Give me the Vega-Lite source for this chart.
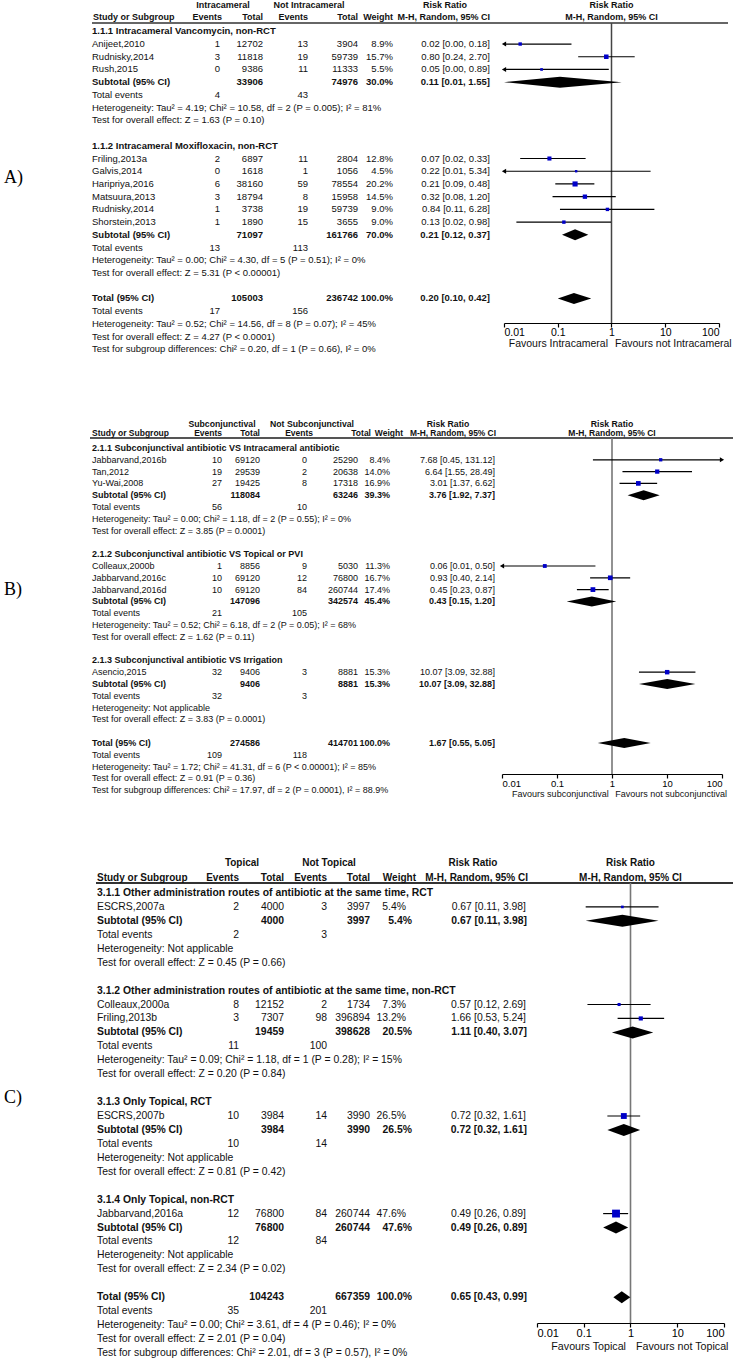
{
"$schema":"https://vega.github.io/schema/vega-lite/v6.json",
"padding":0,
"background":"white",
"spacing":0,
"config":{"view":{"stroke":null},"text":{"font":"Liberation Sans","baseline":"middle","color":"#111"}},
"datasets":{
"A":[
{"row":0,"kind":"grp","label":"1.1.1 Intracameral Vancomycin, non-RCT"},
{"row":1,"kind":"st","label":"Anijeet,2010","e1":1,"t1":12702,"e2":13,"t2":3904,"w":"8.9%","wt":8.9,"ci":"0.02 [0.00, 0.18]","rr":0.02,"lo":0.002,"hi":0.18},
{"row":2,"kind":"st","label":"Rudnisky,2014","e1":3,"t1":11818,"e2":19,"t2":59739,"w":"15.7%","wt":15.7,"ci":"0.80 [0.24, 2.70]","rr":0.80,"lo":0.24,"hi":2.70},
{"row":3,"kind":"st","label":"Rush,2015","e1":0,"t1":9386,"e2":11,"t2":11333,"w":"5.5%","wt":5.5,"ci":"0.05 [0.00, 0.89]","rr":0.05,"lo":0.003,"hi":0.89},
{"row":4,"kind":"sub","label":"Subtotal (95% CI)","t1":33906,"t2":74976,"w":"30.0%","ci":"0.11 [0.01, 1.55]","rr":0.11,"lo":0.01,"hi":1.55},
{"row":5,"kind":"ev","label":"Total events","e1":4,"e2":43},
{"row":6,"kind":"txt","label":"Heterogeneity: Tau² = 4.19; Chi² = 10.58, df = 2 (P = 0.005); I² = 81%"},
{"row":7,"kind":"txt","label":"Test for overall effect: Z = 1.63 (P = 0.10)"},
{"row":9,"kind":"grp","label":"1.1.2 Intracameral Moxifloxacin, non-RCT"},
{"row":10,"kind":"st","label":"Friling,2013a","e1":2,"t1":6897,"e2":11,"t2":2804,"w":"12.8%","wt":12.8,"ci":"0.07 [0.02, 0.33]","rr":0.07,"lo":0.02,"hi":0.33},
{"row":11,"kind":"st","label":"Galvis,2014","e1":0,"t1":1618,"e2":1,"t2":1056,"w":"4.5%","wt":4.5,"ci":"0.22 [0.01, 5.34]","rr":0.22,"lo":0.009,"hi":5.34},
{"row":12,"kind":"st","label":"Haripriya,2016","e1":6,"t1":38160,"e2":59,"t2":78554,"w":"20.2%","wt":20.2,"ci":"0.21 [0.09, 0.48]","rr":0.21,"lo":0.09,"hi":0.48},
{"row":13,"kind":"st","label":"Matsuura,2013","e1":3,"t1":18794,"e2":8,"t2":15958,"w":"14.5%","wt":14.5,"ci":"0.32 [0.08, 1.20]","rr":0.32,"lo":0.08,"hi":1.20},
{"row":14,"kind":"st","label":"Rudnisky,2014","e1":1,"t1":3738,"e2":19,"t2":59739,"w":"9.0%","wt":9.0,"ci":"0.84 [0.11, 6.28]","rr":0.84,"lo":0.11,"hi":6.28},
{"row":15,"kind":"st","label":"Shorstein,2013","e1":1,"t1":1890,"e2":15,"t2":3655,"w":"9.0%","wt":9.0,"ci":"0.13 [0.02, 0.98]","rr":0.13,"lo":0.017,"hi":0.98},
{"row":16,"kind":"sub","label":"Subtotal (95% CI)","t1":71097,"t2":161766,"w":"70.0%","ci":"0.21 [0.12, 0.37]","rr":0.21,"lo":0.12,"hi":0.37},
{"row":17,"kind":"ev","label":"Total events","e1":13,"e2":113},
{"row":18,"kind":"txt","label":"Heterogeneity: Tau² = 0.00; Chi² = 4.30, df = 5 (P = 0.51); I² = 0%"},
{"row":19,"kind":"txt","label":"Test for overall effect: Z = 5.31 (P < 0.00001)"},
{"row":21,"kind":"tot","label":"Total (95% CI)","t1":105003,"t2":236742,"w":"100.0%","ci":"0.20 [0.10, 0.42]","rr":0.20,"lo":0.10,"hi":0.42},
{"row":22,"kind":"ev","label":"Total events","e1":17,"e2":156},
{"row":23,"kind":"txt","label":"Heterogeneity: Tau² = 0.52; Chi² = 14.56, df = 8 (P = 0.07); I² = 45%"},
{"row":24,"kind":"txt","label":"Test for overall effect: Z = 4.27 (P < 0.0001)"},
{"row":25,"kind":"txt","label":"Test for subgroup differences: Chi² = 0.20, df = 1 (P = 0.66), I² = 0%"}
],
"B":[
{"row":0,"kind":"grp","label":"2.1.1 Subconjunctival antibiotic VS Intracameral antibiotic"},
{"row":1,"kind":"st","label":"Jabbarvand,2016b","e1":10,"t1":69120,"e2":0,"t2":25290,"w":"8.4%","wt":8.4,"ci":"7.68 [0.45, 131.12]","rr":7.68,"lo":0.45,"hi":131.12},
{"row":2,"kind":"st","label":"Tan,2012","e1":19,"t1":29539,"e2":2,"t2":20638,"w":"14.0%","wt":14.0,"ci":"6.64 [1.55, 28.49]","rr":6.64,"lo":1.55,"hi":28.49},
{"row":3,"kind":"st","label":"Yu-Wai,2008","e1":27,"t1":19425,"e2":8,"t2":17318,"w":"16.9%","wt":16.9,"ci":"3.01 [1.37, 6.62]","rr":3.01,"lo":1.37,"hi":6.62},
{"row":4,"kind":"sub","label":"Subtotal (95% CI)","t1":118084,"t2":63246,"w":"39.3%","ci":"3.76 [1.92, 7.37]","rr":3.76,"lo":1.92,"hi":7.37},
{"row":5,"kind":"ev","label":"Total events","e1":56,"e2":10},
{"row":6,"kind":"txt","label":"Heterogeneity: Tau² = 0.00; Chi² = 1.18, df = 2 (P = 0.55); I² = 0%"},
{"row":7,"kind":"txt","label":"Test for overall effect: Z = 3.85 (P = 0.0001)"},
{"row":9,"kind":"grp","label":"2.1.2 Subconjunctival antibiotic VS Topical or PVI"},
{"row":10,"kind":"st","label":"Colleaux,2000b","e1":1,"t1":8856,"e2":9,"t2":5030,"w":"11.3%","wt":11.3,"ci":"0.06 [0.01, 0.50]","rr":0.06,"lo":0.007,"hi":0.50},
{"row":11,"kind":"st","label":"Jabbarvand,2016c","e1":10,"t1":69120,"e2":12,"t2":76800,"w":"16.7%","wt":16.7,"ci":"0.93 [0.40, 2.14]","rr":0.93,"lo":0.40,"hi":2.14},
{"row":12,"kind":"st","label":"Jabbarvand,2016d","e1":10,"t1":69120,"e2":84,"t2":260744,"w":"17.4%","wt":17.4,"ci":"0.45 [0.23, 0.87]","rr":0.45,"lo":0.23,"hi":0.87},
{"row":13,"kind":"sub","label":"Subtotal (95% CI)","t1":147096,"t2":342574,"w":"45.4%","ci":"0.43 [0.15, 1.20]","rr":0.43,"lo":0.15,"hi":1.20},
{"row":14,"kind":"ev","label":"Total events","e1":21,"e2":105},
{"row":15,"kind":"txt","label":"Heterogeneity: Tau² = 0.52; Chi² = 6.18, df = 2 (P = 0.05); I² = 68%"},
{"row":16,"kind":"txt","label":"Test for overall effect: Z = 1.62 (P = 0.11)"},
{"row":18,"kind":"grp","label":"2.1.3 Subconjunctival antibiotic VS Irrigation"},
{"row":19,"kind":"st","label":"Asencio,2015","e1":32,"t1":9406,"e2":3,"t2":8881,"w":"15.3%","wt":15.3,"ci":"10.07 [3.09, 32.88]","rr":10.07,"lo":3.09,"hi":32.88},
{"row":20,"kind":"sub","label":"Subtotal (95% CI)","t1":9406,"t2":8881,"w":"15.3%","ci":"10.07 [3.09, 32.88]","rr":10.07,"lo":3.09,"hi":32.88},
{"row":21,"kind":"ev","label":"Total events","e1":32,"e2":3},
{"row":22,"kind":"txt","label":"Heterogeneity: Not applicable"},
{"row":23,"kind":"txt","label":"Test for overall effect: Z = 3.83 (P = 0.0001)"},
{"row":25,"kind":"tot","label":"Total (95% CI)","t1":274586,"t2":414701,"w":"100.0%","ci":"1.67 [0.55, 5.05]","rr":1.67,"lo":0.55,"hi":5.05},
{"row":26,"kind":"ev","label":"Total events","e1":109,"e2":118},
{"row":27,"kind":"txt","label":"Heterogeneity: Tau² = 1.72; Chi² = 41.31, df = 6 (P < 0.00001); I² = 85%"},
{"row":28,"kind":"txt","label":"Test for overall effect: Z = 0.91 (P = 0.36)"},
{"row":29,"kind":"txt","label":"Test for subgroup differences: Chi² = 17.97, df = 2 (P = 0.0001), I² = 88.9%"}
],
"C":[
{"row":0,"kind":"grp","label":"3.1.1 Other administration routes of antibiotic at the same time, RCT"},
{"row":1,"kind":"st","label":"ESCRS,2007a","e1":2,"t1":4000,"e2":3,"t2":3997,"w":"5.4%","wt":5.4,"ci":"0.67 [0.11, 3.98]","rr":0.67,"lo":0.11,"hi":3.98},
{"row":2,"kind":"sub","label":"Subtotal (95% CI)","t1":4000,"t2":3997,"w":"5.4%","ci":"0.67 [0.11, 3.98]","rr":0.67,"lo":0.11,"hi":3.98},
{"row":3,"kind":"ev","label":"Total events","e1":2,"e2":3},
{"row":4,"kind":"txt","label":"Heterogeneity: Not applicable"},
{"row":5,"kind":"txt","label":"Test for overall effect: Z = 0.45 (P = 0.66)"},
{"row":7,"kind":"grp","label":"3.1.2 Other administration routes of antibiotic at the same time, non-RCT"},
{"row":8,"kind":"st","label":"Colleaux,2000a","e1":8,"t1":12152,"e2":2,"t2":1734,"w":"7.3%","wt":7.3,"ci":"0.57 [0.12, 2.69]","rr":0.57,"lo":0.12,"hi":2.69},
{"row":9,"kind":"st","label":"Friling,2013b","e1":3,"t1":7307,"e2":98,"t2":396894,"w":"13.2%","wt":13.2,"ci":"1.66 [0.53, 5.24]","rr":1.66,"lo":0.53,"hi":5.24},
{"row":10,"kind":"sub","label":"Subtotal (95% CI)","t1":19459,"t2":398628,"w":"20.5%","ci":"1.11 [0.40, 3.07]","rr":1.11,"lo":0.40,"hi":3.07},
{"row":11,"kind":"ev","label":"Total events","e1":11,"e2":100},
{"row":12,"kind":"txt","label":"Heterogeneity: Tau² = 0.09; Chi² = 1.18, df = 1 (P = 0.28); I² = 15%"},
{"row":13,"kind":"txt","label":"Test for overall effect: Z = 0.20 (P = 0.84)"},
{"row":15,"kind":"grp","label":"3.1.3 Only Topical, RCT"},
{"row":16,"kind":"st","label":"ESCRS,2007b","e1":10,"t1":3984,"e2":14,"t2":3990,"w":"26.5%","wt":26.5,"ci":"0.72 [0.32, 1.61]","rr":0.72,"lo":0.32,"hi":1.61},
{"row":17,"kind":"sub","label":"Subtotal (95% CI)","t1":3984,"t2":3990,"w":"26.5%","ci":"0.72 [0.32, 1.61]","rr":0.72,"lo":0.32,"hi":1.61},
{"row":18,"kind":"ev","label":"Total events","e1":10,"e2":14},
{"row":19,"kind":"txt","label":"Heterogeneity: Not applicable"},
{"row":20,"kind":"txt","label":"Test for overall effect: Z = 0.81 (P = 0.42)"},
{"row":22,"kind":"grp","label":"3.1.4 Only Topical, non-RCT"},
{"row":23,"kind":"st","label":"Jabbarvand,2016a","e1":12,"t1":76800,"e2":84,"t2":260744,"w":"47.6%","wt":47.6,"ci":"0.49 [0.26, 0.89]","rr":0.49,"lo":0.26,"hi":0.89},
{"row":24,"kind":"sub","label":"Subtotal (95% CI)","t1":76800,"t2":260744,"w":"47.6%","ci":"0.49 [0.26, 0.89]","rr":0.49,"lo":0.26,"hi":0.89},
{"row":25,"kind":"ev","label":"Total events","e1":12,"e2":84},
{"row":26,"kind":"txt","label":"Heterogeneity: Not applicable"},
{"row":27,"kind":"txt","label":"Test for overall effect: Z = 2.34 (P = 0.02)"},
{"row":29,"kind":"tot","label":"Total (95% CI)","t1":104243,"t2":667359,"w":"100.0%","ci":"0.65 [0.43, 0.99]","rr":0.65,"lo":0.43,"hi":0.99},
{"row":30,"kind":"ev","label":"Total events","e1":35,"e2":201},
{"row":31,"kind":"txt","label":"Heterogeneity: Tau² = 0.00; Chi² = 3.61, df = 4 (P = 0.46); I² = 0%"},
{"row":32,"kind":"txt","label":"Test for overall effect: Z = 2.01 (P = 0.04)"},
{"row":33,"kind":"txt","label":"Test for subgroup differences: Chi² = 2.01, df = 3 (P = 0.57), I² = 0%"}
]
},
"vconcat":[
{"spacing":0,"bounds":"flush","hconcat":[
{"width":504,"height":360,"data":{"name":"A"},
"layer":[
{"transform":[{"filter":"datum.kind=='st'||datum.kind=='ev'||datum.kind=='txt'"}],"mark":{"type":"text","align":"left","fontSize":9.5},"encoding":{"x":{"datum":92,"type":"quantitative","scale":{"domain":[0,504],"nice":false,"zero":false},"axis":null},"y":{"field":"row","type":"quantitative","scale":{"domain":[-2.461,25.84],"reverse":true,"nice":false,"zero":false},"axis":null},"text":{"field":"label","type":"nominal"}}},
{"transform":[{"filter":"datum.kind=='grp'||datum.kind=='sub'||datum.kind=='tot'"}],"mark":{"type":"text","align":"left","fontSize":9.5,"fontWeight":"bold"},"encoding":{"x":{"datum":92},"y":{"field":"row","type":"quantitative","axis":null},"text":{"field":"label","type":"nominal"}}},
{"transform":[{"filter":"isValid(datum.e1)"}],"mark":{"type":"text","align":"right","fontSize":9.5},"encoding":{"x":{"datum":220},"y":{"field":"row","type":"quantitative","axis":null},"text":{"field":"e1","type":"nominal"}}},
{"transform":[{"filter":"isValid(datum.t1)&&datum.kind=='st'"}],"mark":{"type":"text","align":"right","fontSize":9.5},"encoding":{"x":{"datum":263},"y":{"field":"row","type":"quantitative","axis":null},"text":{"field":"t1","type":"nominal"}}},
{"transform":[{"filter":"isValid(datum.t1)&&datum.kind!='st'"}],"mark":{"type":"text","align":"right","fontSize":9.5,"fontWeight":"bold"},"encoding":{"x":{"datum":263},"y":{"field":"row","type":"quantitative","axis":null},"text":{"field":"t1","type":"nominal"}}},
{"transform":[{"filter":"isValid(datum.e2)"}],"mark":{"type":"text","align":"right","fontSize":9.5},"encoding":{"x":{"datum":308},"y":{"field":"row","type":"quantitative","axis":null},"text":{"field":"e2","type":"nominal"}}},
{"transform":[{"filter":"isValid(datum.t2)&&datum.kind=='st'"}],"mark":{"type":"text","align":"right","fontSize":9.5},"encoding":{"x":{"datum":358},"y":{"field":"row","type":"quantitative","axis":null},"text":{"field":"t2","type":"nominal"}}},
{"transform":[{"filter":"isValid(datum.t2)&&datum.kind!='st'"}],"mark":{"type":"text","align":"right","fontSize":9.5,"fontWeight":"bold"},"encoding":{"x":{"datum":358},"y":{"field":"row","type":"quantitative","axis":null},"text":{"field":"t2","type":"nominal"}}},
{"transform":[{"filter":"isValid(datum.w)&&datum.kind=='st'"}],"mark":{"type":"text","align":"right","fontSize":9.5},"encoding":{"x":{"datum":393},"y":{"field":"row","type":"quantitative","axis":null},"text":{"field":"w","type":"nominal"}}},
{"transform":[{"filter":"isValid(datum.w)&&datum.kind!='st'"}],"mark":{"type":"text","align":"right","fontSize":9.5,"fontWeight":"bold"},"encoding":{"x":{"datum":393},"y":{"field":"row","type":"quantitative","axis":null},"text":{"field":"w","type":"nominal"}}},
{"transform":[{"filter":"isValid(datum.ci)&&datum.kind=='st'"}],"mark":{"type":"text","align":"right","fontSize":9.5},"encoding":{"x":{"datum":490},"y":{"field":"row","type":"quantitative","axis":null},"text":{"field":"ci","type":"nominal"}}},
{"transform":[{"filter":"isValid(datum.ci)&&datum.kind!='st'"}],"mark":{"type":"text","align":"right","fontSize":9.5,"fontWeight":"bold"},"encoding":{"x":{"datum":490},"y":{"field":"row","type":"quantitative","axis":null},"text":{"field":"ci","type":"nominal"}}},
{"data":{"values":[{}]},"mark":{"type":"rule","color":"#333","strokeWidth":1.6},"encoding":{"x":{"datum":92},"x2":{"datum":728},"y":{"datum":-0.65,"axis":null}}},
{"data":{"values":[{}]},"mark":{"type":"text","align":"center","fontSize":9,"fontWeight":"bold"},"encoding":{"x":{"datum":223},"y":{"datum":-2.07,"axis":null},"text":{"value":"Intracameral"}}},
{"data":{"values":[{}]},"mark":{"type":"text","align":"center","fontSize":9,"fontWeight":"bold"},"encoding":{"x":{"datum":309},"y":{"datum":-2.07,"axis":null},"text":{"value":"Not Intracameral"}}},
{"data":{"values":[{}]},"mark":{"type":"text","align":"center","fontSize":9,"fontWeight":"bold"},"encoding":{"x":{"datum":445},"y":{"datum":-2.07,"axis":null},"text":{"value":"Risk Ratio"}}},
{"data":{"values":[{}]},"mark":{"type":"text","align":"left","fontSize":9,"fontWeight":"bold"},"encoding":{"x":{"datum":93},"y":{"datum":-1.12,"axis":null},"text":{"value":"Study or Subgroup"}}},
{"data":{"values":[{}]},"mark":{"type":"text","align":"right","fontSize":9,"fontWeight":"bold"},"encoding":{"x":{"datum":222},"y":{"datum":-1.12,"axis":null},"text":{"value":"Events"}}},
{"data":{"values":[{}]},"mark":{"type":"text","align":"right","fontSize":9,"fontWeight":"bold"},"encoding":{"x":{"datum":263},"y":{"datum":-1.12,"axis":null},"text":{"value":"Total"}}},
{"data":{"values":[{}]},"mark":{"type":"text","align":"right","fontSize":9,"fontWeight":"bold"},"encoding":{"x":{"datum":308},"y":{"datum":-1.12,"axis":null},"text":{"value":"Events"}}},
{"data":{"values":[{}]},"mark":{"type":"text","align":"right","fontSize":9,"fontWeight":"bold"},"encoding":{"x":{"datum":358},"y":{"datum":-1.12,"axis":null},"text":{"value":"Total"}}},
{"data":{"values":[{}]},"mark":{"type":"text","align":"right","fontSize":9,"fontWeight":"bold"},"encoding":{"x":{"datum":393},"y":{"datum":-1.12,"axis":null},"text":{"value":"Weight"}}},
{"data":{"values":[{}]},"mark":{"type":"text","align":"right","fontSize":9,"fontWeight":"bold"},"encoding":{"x":{"datum":490},"y":{"datum":-1.12,"axis":null},"text":{"value":"M-H, Random, 95% CI"}}},
{"data":{"values":[{}]},"mark":{"type":"text","align":"left","fontSize":18,"font":"Liberation Serif","color":"#000"},"encoding":{"x":{"datum":4},"y":{"datum":11.53,"axis":null},"text":{"value":"A)"}}}
]},
{"width":215,"height":323,"data":{"name":"A"},
"layer":[
{"data":{"values":[{}]},"mark":{"type":"rule","color":"#444","strokeWidth":1.5},"encoding":{"x":{"datum":1,"type":"quantitative","scale":{"type":"log","domain":[0.01,100],"nice":false,"clamp":true},"axis":{"values":[0.01,0.1,1,10,100],"format":"~g","title":null,"grid":false,"orient":"bottom","domainColor":"#000","domainWidth":1.2,"tickColor":"#000","tickWidth":1.2,"tickSize":4,"labelColor":"#000","labelFont":"Liberation Sans","labelFontSize":10.5,"labelPadding":0}},"y":{"datum":-0.65,"type":"quantitative","scale":{"domain":[-2.461,22.93],"reverse":true,"nice":false,"zero":false},"axis":null},"y2":{"datum":22.93}}},
{"transform":[{"filter":"datum.kind=='st'"}],"mark":{"type":"rule","color":"#000","strokeWidth":1.2},"encoding":{"x":{"field":"lo","type":"quantitative"},"x2":{"field":"hi"},"y":{"field":"row","type":"quantitative","axis":null}}},
{"transform":[{"filter":"datum.kind=='st'&&datum.lo<0.01"}],"mark":{"type":"point","shape":"triangle-left","filled":true,"color":"#000","opacity":1,"size":24},"encoding":{"x":{"field":"lo","type":"quantitative"},"y":{"field":"row","type":"quantitative","axis":null}}},
{"transform":[{"filter":"datum.kind=='st'"}],"mark":{"type":"point","shape":"square","filled":true,"color":"#0000c8","opacity":1},"encoding":{"x":{"field":"rr","type":"quantitative"},"y":{"field":"row","type":"quantitative","axis":null},"size":{"field":"wt","type":"quantitative","scale":{"domain":[0,50],"range":[0,65]},"legend":null}}},
{"transform":[{"filter":"datum.kind=='sub'||datum.kind=='tot'"},{"fold":["lo","rr","hi"],"as":["k","v"]}],"mark":{"type":"area","color":"#000","opacity":1,"yOffset":{"expr":"datum.k=='rr' ? -5.5 : 0"},"y2Offset":{"expr":"datum.k=='rr' ? 5.5 : 0"}},"encoding":{"x":{"field":"v","type":"quantitative"},"y":{"field":"row","type":"quantitative","axis":null},"y2":{"field":"row"},"detail":{"field":"row","type":"nominal"}}},
{"data":{"values":[{}]},"mark":{"type":"text","align":"center","fontSize":9,"fontWeight":"bold"},"encoding":{"x":{"datum":1},"y":{"datum":-2.07,"axis":null},"text":{"value":"Risk Ratio"}}},
{"data":{"values":[{}]},"mark":{"type":"text","align":"center","fontSize":9,"fontWeight":"bold"},"encoding":{"x":{"datum":1},"y":{"datum":-1.12,"axis":null},"text":{"value":"M-H, Random, 95% CI"}}},
{"data":{"values":[{}]},"mark":{"type":"text","align":"right","fontSize":10.5},"encoding":{"x":{"datum":0.86},"y":{"datum":24.6,"axis":null},"text":{"value":"Favours Intracameral"}}},
{"data":{"values":[{}]},"mark":{"type":"text","align":"left","fontSize":10.5},"encoding":{"x":{"datum":1.16},"y":{"datum":24.6,"axis":null},"text":{"value":"Favours not Intracameral"}}}
]}
]},
{"spacing":0,"bounds":"flush","hconcat":[
{"width":502,"height":440,"data":{"name":"B"},
"layer":[
{"transform":[{"filter":"datum.kind=='st'||datum.kind=='ev'||datum.kind=='txt'"}],"mark":{"type":"text","align":"left","fontSize":9},"encoding":{"x":{"datum":92,"type":"quantitative","scale":{"domain":[0,502],"nice":false,"zero":false},"axis":null},"y":{"field":"row","type":"quantitative","scale":{"domain":[-7.458,29.83],"reverse":true,"nice":false,"zero":false},"axis":null},"text":{"field":"label","type":"nominal"}}},
{"transform":[{"filter":"datum.kind=='grp'||datum.kind=='sub'||datum.kind=='tot'"}],"mark":{"type":"text","align":"left","fontSize":9,"fontWeight":"bold"},"encoding":{"x":{"datum":92},"y":{"field":"row","type":"quantitative","axis":null},"text":{"field":"label","type":"nominal"}}},
{"transform":[{"filter":"isValid(datum.e1)"}],"mark":{"type":"text","align":"right","fontSize":9},"encoding":{"x":{"datum":222},"y":{"field":"row","type":"quantitative","axis":null},"text":{"field":"e1","type":"nominal"}}},
{"transform":[{"filter":"isValid(datum.t1)&&datum.kind=='st'"}],"mark":{"type":"text","align":"right","fontSize":9},"encoding":{"x":{"datum":260},"y":{"field":"row","type":"quantitative","axis":null},"text":{"field":"t1","type":"nominal"}}},
{"transform":[{"filter":"isValid(datum.t1)&&datum.kind!='st'"}],"mark":{"type":"text","align":"right","fontSize":9,"fontWeight":"bold"},"encoding":{"x":{"datum":260},"y":{"field":"row","type":"quantitative","axis":null},"text":{"field":"t1","type":"nominal"}}},
{"transform":[{"filter":"isValid(datum.e2)"}],"mark":{"type":"text","align":"right","fontSize":9},"encoding":{"x":{"datum":307},"y":{"field":"row","type":"quantitative","axis":null},"text":{"field":"e2","type":"nominal"}}},
{"transform":[{"filter":"isValid(datum.t2)&&datum.kind=='st'"}],"mark":{"type":"text","align":"right","fontSize":9},"encoding":{"x":{"datum":358},"y":{"field":"row","type":"quantitative","axis":null},"text":{"field":"t2","type":"nominal"}}},
{"transform":[{"filter":"isValid(datum.t2)&&datum.kind!='st'"}],"mark":{"type":"text","align":"right","fontSize":9,"fontWeight":"bold"},"encoding":{"x":{"datum":358},"y":{"field":"row","type":"quantitative","axis":null},"text":{"field":"t2","type":"nominal"}}},
{"transform":[{"filter":"isValid(datum.w)&&datum.kind=='st'"}],"mark":{"type":"text","align":"right","fontSize":9},"encoding":{"x":{"datum":390},"y":{"field":"row","type":"quantitative","axis":null},"text":{"field":"w","type":"nominal"}}},
{"transform":[{"filter":"isValid(datum.w)&&datum.kind!='st'"}],"mark":{"type":"text","align":"right","fontSize":9,"fontWeight":"bold"},"encoding":{"x":{"datum":390},"y":{"field":"row","type":"quantitative","axis":null},"text":{"field":"w","type":"nominal"}}},
{"transform":[{"filter":"isValid(datum.ci)&&datum.kind=='st'"}],"mark":{"type":"text","align":"right","fontSize":9},"encoding":{"x":{"datum":495},"y":{"field":"row","type":"quantitative","axis":null},"text":{"field":"ci","type":"nominal"}}},
{"transform":[{"filter":"isValid(datum.ci)&&datum.kind!='st'"}],"mark":{"type":"text","align":"right","fontSize":9,"fontWeight":"bold"},"encoding":{"x":{"datum":495},"y":{"field":"row","type":"quantitative","axis":null},"text":{"field":"ci","type":"nominal"}}},
{"data":{"values":[{}]},"mark":{"type":"rule","color":"#555","strokeWidth":2},"encoding":{"x":{"datum":90},"x2":{"datum":733},"y":{"datum":-0.85,"axis":null}}},
{"data":{"values":[{}]},"mark":{"type":"text","align":"center","fontSize":8.7,"fontWeight":"bold"},"encoding":{"x":{"datum":222},"y":{"datum":-2.03,"axis":null},"text":{"value":"Subconjunctival"}}},
{"data":{"values":[{}]},"mark":{"type":"text","align":"center","fontSize":8.7,"fontWeight":"bold"},"encoding":{"x":{"datum":312},"y":{"datum":-2.03,"axis":null},"text":{"value":"Not Subconjunctival"}}},
{"data":{"values":[{}]},"mark":{"type":"text","align":"center","fontSize":8.7,"fontWeight":"bold"},"encoding":{"x":{"datum":448},"y":{"datum":-2.03,"axis":null},"text":{"value":"Risk Ratio"}}},
{"data":{"values":[{}]},"mark":{"type":"text","align":"left","fontSize":8.5,"fontWeight":"bold"},"encoding":{"x":{"datum":92},"y":{"datum":-1.27,"axis":null},"text":{"value":"Study or Subgroup"}}},
{"data":{"values":[{}]},"mark":{"type":"text","align":"right","fontSize":8.5,"fontWeight":"bold"},"encoding":{"x":{"datum":222},"y":{"datum":-1.27,"axis":null},"text":{"value":"Events"}}},
{"data":{"values":[{}]},"mark":{"type":"text","align":"right","fontSize":8.5,"fontWeight":"bold"},"encoding":{"x":{"datum":260},"y":{"datum":-1.27,"axis":null},"text":{"value":"Total"}}},
{"data":{"values":[{}]},"mark":{"type":"text","align":"right","fontSize":8.5,"fontWeight":"bold"},"encoding":{"x":{"datum":313},"y":{"datum":-1.27,"axis":null},"text":{"value":"Events"}}},
{"data":{"values":[{}]},"mark":{"type":"text","align":"right","fontSize":8.5,"fontWeight":"bold"},"encoding":{"x":{"datum":371},"y":{"datum":-1.27,"axis":null},"text":{"value":"Total"}}},
{"data":{"values":[{}]},"mark":{"type":"text","align":"right","fontSize":8.5,"fontWeight":"bold"},"encoding":{"x":{"datum":403},"y":{"datum":-1.27,"axis":null},"text":{"value":"Weight"}}},
{"data":{"values":[{}]},"mark":{"type":"text","align":"right","fontSize":8.4,"fontWeight":"bold"},"encoding":{"x":{"datum":496},"y":{"datum":-1.27,"axis":null},"text":{"value":"M-H, Random, 95% CI"}}},
{"data":{"values":[{}]},"mark":{"type":"text","align":"left","fontSize":18,"font":"Liberation Serif","color":"#000"},"encoding":{"x":{"datum":4},"y":{"datum":12.03,"axis":null},"text":{"value":"B)"}}}
]},
{"width":220,"height":414,"data":{"name":"B"},
"layer":[
{"data":{"values":[{}]},"mark":{"type":"rule","color":"#777","strokeWidth":1.6},"encoding":{"x":{"datum":1,"type":"quantitative","scale":{"type":"log","domain":[0.01,100],"nice":false,"clamp":true},"axis":{"values":[0.01,0.1,1,10,100],"format":"~g","title":null,"grid":false,"orient":"bottom","domainColor":"#000","domainWidth":1.2,"tickColor":"#000","tickWidth":1.2,"tickSize":4,"labelColor":"#000","labelFont":"Liberation Sans","labelFontSize":9.5,"labelPadding":0}},"y":{"datum":-0.85,"type":"quantitative","scale":{"domain":[-7.458,27.63],"reverse":true,"nice":false,"zero":false},"axis":null},"y2":{"datum":27.63}}},
{"transform":[{"filter":"datum.kind=='st'"}],"mark":{"type":"rule","color":"#000","strokeWidth":1.2},"encoding":{"x":{"field":"lo","type":"quantitative"},"x2":{"field":"hi"},"y":{"field":"row","type":"quantitative","axis":null}}},
{"transform":[{"filter":"datum.kind=='st'&&datum.lo<0.01"}],"mark":{"type":"point","shape":"triangle-left","filled":true,"color":"#000","opacity":1,"size":24},"encoding":{"x":{"field":"lo","type":"quantitative"},"y":{"field":"row","type":"quantitative","axis":null}}},
{"transform":[{"filter":"datum.kind=='st'&&datum.hi>100"}],"mark":{"type":"point","shape":"triangle-right","filled":true,"color":"#000","opacity":1,"size":24},"encoding":{"x":{"field":"hi","type":"quantitative"},"y":{"field":"row","type":"quantitative","axis":null}}},
{"transform":[{"filter":"datum.kind=='st'"}],"mark":{"type":"point","shape":"square","filled":true,"color":"#0000c8","opacity":1},"encoding":{"x":{"field":"rr","type":"quantitative"},"y":{"field":"row","type":"quantitative","axis":null},"size":{"field":"wt","type":"quantitative","scale":{"domain":[0,50],"range":[0,65]},"legend":null}}},
{"transform":[{"filter":"datum.kind=='sub'||datum.kind=='tot'"},{"fold":["lo","rr","hi"],"as":["k","v"]}],"mark":{"type":"area","color":"#000","opacity":1,"yOffset":{"expr":"datum.k=='rr' ? -5 : 0"},"y2Offset":{"expr":"datum.k=='rr' ? 5 : 0"}},"encoding":{"x":{"field":"v","type":"quantitative"},"y":{"field":"row","type":"quantitative","axis":null},"y2":{"field":"row"},"detail":{"field":"row","type":"nominal"}}},
{"data":{"values":[{}]},"mark":{"type":"text","align":"center","fontSize":8.7,"fontWeight":"bold"},"encoding":{"x":{"datum":1},"y":{"datum":-2.03,"axis":null},"text":{"value":"Risk Ratio"}}},
{"data":{"values":[{}]},"mark":{"type":"text","align":"center","fontSize":8.5,"fontWeight":"bold"},"encoding":{"x":{"datum":1},"y":{"datum":-1.27,"axis":null},"text":{"value":"M-H, Random, 95% CI"}}},
{"data":{"values":[{}]},"mark":{"type":"text","align":"right","fontSize":9},"encoding":{"x":{"datum":0.87},"y":{"datum":29.3,"axis":null},"text":{"value":"Favours subconjunctival"}}},
{"data":{"values":[{}]},"mark":{"type":"text","align":"left","fontSize":9},"encoding":{"x":{"datum":1.15},"y":{"datum":29.3,"axis":null},"text":{"value":"Favours not subconjunctival"}}}
]}
]},
{"spacing":0,"bounds":"flush","hconcat":[
{"width":537,"height":559,"data":{"name":"C"},
"layer":[
{"transform":[{"filter":"datum.kind=='st'||datum.kind=='ev'||datum.kind=='txt'"}],"mark":{"type":"text","align":"left","fontSize":10.4},"encoding":{"x":{"datum":97,"type":"quantitative","scale":{"domain":[0,537],"nice":false,"zero":false},"axis":null},"y":{"field":"row","type":"quantitative","scale":{"domain":[-6.671,33.43],"reverse":true,"nice":false,"zero":false},"axis":null},"text":{"field":"label","type":"nominal"}}},
{"transform":[{"filter":"datum.kind=='grp'||datum.kind=='sub'||datum.kind=='tot'"}],"mark":{"type":"text","align":"left","fontSize":10.4,"fontWeight":"bold"},"encoding":{"x":{"datum":97},"y":{"field":"row","type":"quantitative","axis":null},"text":{"field":"label","type":"nominal"}}},
{"transform":[{"filter":"isValid(datum.e1)"}],"mark":{"type":"text","align":"right","fontSize":10.4},"encoding":{"x":{"datum":239},"y":{"field":"row","type":"quantitative","axis":null},"text":{"field":"e1","type":"nominal"}}},
{"transform":[{"filter":"isValid(datum.t1)&&datum.kind=='st'"}],"mark":{"type":"text","align":"right","fontSize":10.4},"encoding":{"x":{"datum":284},"y":{"field":"row","type":"quantitative","axis":null},"text":{"field":"t1","type":"nominal"}}},
{"transform":[{"filter":"isValid(datum.t1)&&datum.kind!='st'"}],"mark":{"type":"text","align":"right","fontSize":10.4,"fontWeight":"bold"},"encoding":{"x":{"datum":284},"y":{"field":"row","type":"quantitative","axis":null},"text":{"field":"t1","type":"nominal"}}},
{"transform":[{"filter":"isValid(datum.e2)"}],"mark":{"type":"text","align":"right","fontSize":10.4},"encoding":{"x":{"datum":327},"y":{"field":"row","type":"quantitative","axis":null},"text":{"field":"e2","type":"nominal"}}},
{"transform":[{"filter":"isValid(datum.t2)&&datum.kind=='st'"}],"mark":{"type":"text","align":"right","fontSize":10.4},"encoding":{"x":{"datum":370},"y":{"field":"row","type":"quantitative","axis":null},"text":{"field":"t2","type":"nominal"}}},
{"transform":[{"filter":"isValid(datum.t2)&&datum.kind!='st'"}],"mark":{"type":"text","align":"right","fontSize":10.4,"fontWeight":"bold"},"encoding":{"x":{"datum":370},"y":{"field":"row","type":"quantitative","axis":null},"text":{"field":"t2","type":"nominal"}}},
{"transform":[{"filter":"isValid(datum.w)&&datum.kind=='st'"}],"mark":{"type":"text","align":"right","fontSize":10.4},"encoding":{"x":{"datum":406},"y":{"field":"row","type":"quantitative","axis":null},"text":{"field":"w","type":"nominal"}}},
{"transform":[{"filter":"isValid(datum.w)&&datum.kind!='st'"}],"mark":{"type":"text","align":"right","fontSize":10.4,"fontWeight":"bold"},"encoding":{"x":{"datum":412},"y":{"field":"row","type":"quantitative","axis":null},"text":{"field":"w","type":"nominal"}}},
{"transform":[{"filter":"isValid(datum.ci)&&datum.kind=='st'"}],"mark":{"type":"text","align":"right","fontSize":10.4},"encoding":{"x":{"datum":526},"y":{"field":"row","type":"quantitative","axis":null},"text":{"field":"ci","type":"nominal"}}},
{"transform":[{"filter":"isValid(datum.ci)&&datum.kind!='st'"}],"mark":{"type":"text","align":"right","fontSize":10.4,"fontWeight":"bold"},"encoding":{"x":{"datum":527},"y":{"field":"row","type":"quantitative","axis":null},"text":{"field":"ci","type":"nominal"}}},
{"data":{"values":[{}]},"mark":{"type":"rule","color":"#333","strokeWidth":1.8},"encoding":{"x":{"datum":96},"x2":{"datum":733},"y":{"datum":-0.717,"axis":null}}},
{"data":{"values":[{}]},"mark":{"type":"text","align":"center","fontSize":10,"fontWeight":"bold"},"encoding":{"x":{"datum":242},"y":{"datum":-2.15,"axis":null},"text":{"value":"Topical"}}},
{"data":{"values":[{}]},"mark":{"type":"text","align":"center","fontSize":10,"fontWeight":"bold"},"encoding":{"x":{"datum":329},"y":{"datum":-2.15,"axis":null},"text":{"value":"Not Topical"}}},
{"data":{"values":[{}]},"mark":{"type":"text","align":"center","fontSize":10,"fontWeight":"bold"},"encoding":{"x":{"datum":473},"y":{"datum":-2.15,"axis":null},"text":{"value":"Risk Ratio"}}},
{"data":{"values":[{}]},"mark":{"type":"text","align":"left","fontSize":10,"fontWeight":"bold"},"encoding":{"x":{"datum":97},"y":{"datum":-1.08,"axis":null},"text":{"value":"Study or Subgroup"}}},
{"data":{"values":[{}]},"mark":{"type":"text","align":"right","fontSize":10,"fontWeight":"bold"},"encoding":{"x":{"datum":239},"y":{"datum":-1.08,"axis":null},"text":{"value":"Events"}}},
{"data":{"values":[{}]},"mark":{"type":"text","align":"right","fontSize":10,"fontWeight":"bold"},"encoding":{"x":{"datum":284},"y":{"datum":-1.08,"axis":null},"text":{"value":"Total"}}},
{"data":{"values":[{}]},"mark":{"type":"text","align":"right","fontSize":10,"fontWeight":"bold"},"encoding":{"x":{"datum":327},"y":{"datum":-1.08,"axis":null},"text":{"value":"Events"}}},
{"data":{"values":[{}]},"mark":{"type":"text","align":"right","fontSize":10,"fontWeight":"bold"},"encoding":{"x":{"datum":370},"y":{"datum":-1.08,"axis":null},"text":{"value":"Total"}}},
{"data":{"values":[{}]},"mark":{"type":"text","align":"right","fontSize":10,"fontWeight":"bold"},"encoding":{"x":{"datum":416},"y":{"datum":-1.08,"axis":null},"text":{"value":"Weight"}}},
{"data":{"values":[{}]},"mark":{"type":"text","align":"right","fontSize":10,"fontWeight":"bold"},"encoding":{"x":{"datum":528},"y":{"datum":-1.08,"axis":null},"text":{"value":"M-H, Random, 95% CI"}}},
{"data":{"values":[{}]},"mark":{"type":"text","align":"left","fontSize":18,"font":"Liberation Serif","color":"#000"},"encoding":{"x":{"datum":4},"y":{"datum":14.7,"axis":null},"text":{"value":"C)"}}}
]},
{"width":187,"height":523,"data":{"name":"C"},
"layer":[
{"data":{"values":[{}]},"mark":{"type":"rule","color":"#777","strokeWidth":1.6},"encoding":{"x":{"datum":1,"type":"quantitative","scale":{"type":"log","domain":[0.01,100],"nice":false,"clamp":true},"axis":{"values":[0.01,0.1,1,10,100],"format":"~g","title":null,"grid":false,"orient":"bottom","domainColor":"#000","domainWidth":1.2,"tickColor":"#000","tickWidth":1.2,"tickSize":4,"labelColor":"#000","labelFont":"Liberation Sans","labelFontSize":11,"labelPadding":0}},"y":{"datum":-0.717,"type":"quantitative","scale":{"domain":[-6.671,30.85],"reverse":true,"nice":false,"zero":false},"axis":null},"y2":{"datum":30.85}}},
{"transform":[{"filter":"datum.kind=='st'"}],"mark":{"type":"rule","color":"#000","strokeWidth":1.2},"encoding":{"x":{"field":"lo","type":"quantitative"},"x2":{"field":"hi"},"y":{"field":"row","type":"quantitative","axis":null}}},
{"transform":[{"filter":"datum.kind=='st'"}],"mark":{"type":"point","shape":"square","filled":true,"color":"#0000c8","opacity":1},"encoding":{"x":{"field":"rr","type":"quantitative"},"y":{"field":"row","type":"quantitative","axis":null},"size":{"field":"wt","type":"quantitative","scale":{"domain":[0,50],"range":[0,65]},"legend":null}}},
{"transform":[{"filter":"datum.kind=='sub'||datum.kind=='tot'"},{"fold":["lo","rr","hi"],"as":["k","v"]}],"mark":{"type":"area","color":"#000","opacity":1,"yOffset":{"expr":"datum.k=='rr' ? -6 : 0"},"y2Offset":{"expr":"datum.k=='rr' ? 6 : 0"}},"encoding":{"x":{"field":"v","type":"quantitative"},"y":{"field":"row","type":"quantitative","axis":null},"y2":{"field":"row"},"detail":{"field":"row","type":"nominal"}}},
{"data":{"values":[{}]},"mark":{"type":"text","align":"center","fontSize":10,"fontWeight":"bold"},"encoding":{"x":{"datum":1},"y":{"datum":-2.15,"axis":null},"text":{"value":"Risk Ratio"}}},
{"data":{"values":[{}]},"mark":{"type":"text","align":"center","fontSize":10,"fontWeight":"bold"},"encoding":{"x":{"datum":1},"y":{"datum":-1.08,"axis":null},"text":{"value":"M-H, Random, 95% CI"}}},
{"data":{"values":[{}]},"mark":{"type":"text","align":"right","fontSize":10.7},"encoding":{"x":{"datum":0.8},"y":{"datum":32.6,"axis":null},"text":{"value":"Favours Topical"}}},
{"data":{"values":[{}]},"mark":{"type":"text","align":"left","fontSize":10.7},"encoding":{"x":{"datum":1.31},"y":{"datum":32.6,"axis":null},"text":{"value":"Favours not Topical"}}}
]}
]}
]
}
